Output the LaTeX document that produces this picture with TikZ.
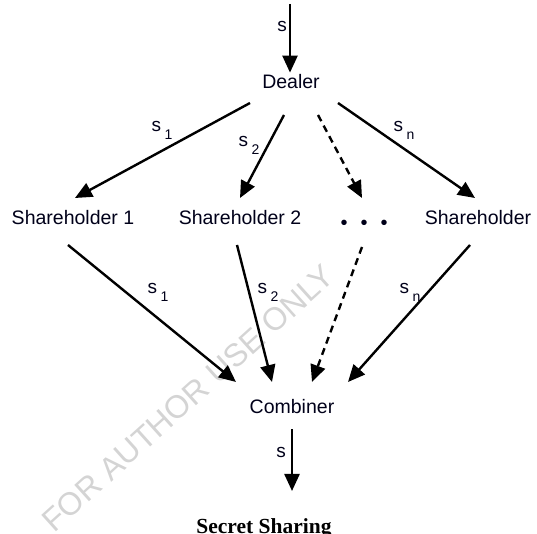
\documentclass[tikz,border=0pt]{standalone}
\usepackage{fontspec}
\setmainfont{Liberation Sans}
\newfontfamily\captionserif{Liberation Serif}
\usetikzlibrary{arrows.meta}

% share label: "s" with a lowered index
\newcommand\sharelbl[1]{s\hspace{3.5pt}\raisebox{-8pt}{\fontsize{14}{14}\selectfont #1}}

\begin{document}
\begin{tikzpicture}[x=1pt,y=1pt,
  party/.style={font=\fontsize{19.5}{22}\selectfont, inner sep=2pt, text=black!90!blue},
  lbl/.style={font=\fontsize{19}{22}\selectfont, inner sep=0pt, text=black!90!blue},
  arr/.style={line width=2.4pt, -{Triangle[length=17pt,width=15pt]}},
  dsh/.style={arr, dash pattern=on 7pt off 5pt},
  wmtext/.style={font=\fontsize{32}{32}\selectfont, text=black!17}]
\useasboundingbox (0,0) rectangle (537,534);

% watermark
\node[wmtext, rotate=42] (wm) at (188,136) {FOR AUTHOR USE ONLY};

% parties
\coordinate (src) at (290,530);
\node[party] (dealer) at (291,452) {Dealer};
\node[party] (sh1) at (73,316) {Shareholder 1};
\node[party] (sh2) at (240,316) {Shareholder 2};
\node[party, inner sep=0pt] (dots) at (364,309) {\fontsize{20}{20}\selectfont\textbullet\hspace{13pt}\textbullet\hspace{13pt}\textbullet};
\node[party] (shn) at (478,316) {Shareholder};
\node[party] (comb) at (292,127) {Combiner};
\coordinate (out) at (292,43);

% secret in and out
\draw[arr] (src) -- (dealer.north -| src);
\node[lbl] (sin) at (282,507) {s};
\draw[arr] ([yshift=-13pt]comb.south) -- (out);
\node[lbl] (sout) at (281,82) {s};

% dealer to shareholders
\draw[arr] ([shift={(-41,-21)}]dealer.center) -- ([shift={(2,20)}]sh1.center);
\draw[arr] ([shift={(-7,-33)}]dealer.center) -- ([shift={(0,20)}]sh2.center);
\draw[dsh] ([shift={(27,-33)}]dealer.center) -- ([shift={(-2,27)}]dots.center);
\draw[arr] ([shift={(47,-21)}]dealer.center) -- ([shift={(-3,20)}]shn.center);
\node[lbl] (l1) at (162,404) {\sharelbl{1}};
\node[lbl] (l2) at (249,389) {\sharelbl{2}};
\node[lbl] (ln) at (404,404) {\sharelbl{n}};

% shareholders to combiner
\draw[arr] ([shift={(-5,-27)}]sh1.center) -- ([shift={(-56,25)}]comb.center);
\draw[arr] ([shift={(-3,-27)}]sh2.center) -- ([shift={(-20,25)}]comb.center);
\draw[dsh] ([shift={(-2,-22)}]dots.center) -- ([shift={(20,25)}]comb.center);
\draw[arr] ([shift={(-8,-27)}]shn.center) -- ([shift={(56,25)}]comb.center);
\node[lbl] (m1) at (158,242) {\sharelbl{1}};
\node[lbl] (m2) at (268,242) {\sharelbl{2}};
\node[lbl] (mn) at (410,242) {\sharelbl{n}};

% caption
\node[anchor=base, inner sep=0pt, font=\captionserif\bfseries\fontsize{21.5}{23}\selectfont] (cap) at (264,0) {Secret Sharing};
\end{tikzpicture}
\end{document}
